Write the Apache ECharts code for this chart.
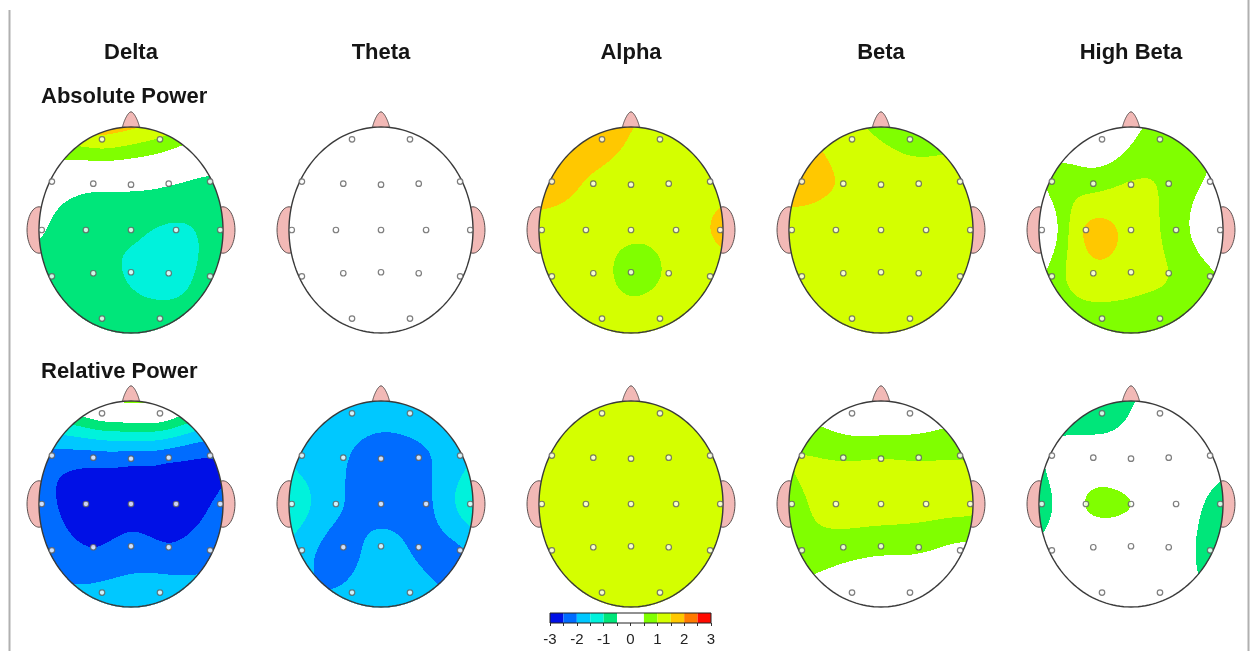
<!DOCTYPE html>
<html>
<head>
<meta charset="utf-8">
<script src="https://cdn.jsdelivr.net/npm/echarts@6/dist/echarts.min.js"></script>
<style>html,body{margin:0;padding:0;background:#fff}#c{width:1255px;height:651px}</style>
</head>
<body>
<div id="c"></div>
<script>
// ---------------- DATA ----------------
const bands = ['Delta', 'Theta', 'Alpha', 'Beta', 'High Beta'];
const rowTitles = ['Absolute Power', 'Relative Power'];
const electrodes = ['Fp1','Fp2','F7','F3','Fz','F4','F8','T3','C3','Cz','C4','T4','T5','P3','Pz','P4','T6','O1','O2'];

// Z-scores at each electrode (order as in `electrodes`)
const absDelta     = [1.35, 0.95, -0.05, -0.3, -0.35, -0.45, -0.6, -0.45, -0.9, -0.9, -1.05, -0.85, -0.8, -0.85, -1.05, -1.2, -0.85, -0.8, -0.85];
const absTheta     = [0.1, 0.1, 0.0, 0.1, 0.1, 0.1, 0.0, 0.0, 0.1, 0.1, 0.1, 0.0, 0.0, 0.1, 0.1, 0.1, 0.0, 0.1, 0.1];
const absAlpha     = [1.75, 1.25, 1.8, 1.4, 1.25, 1.25, 1.3, 1.3, 1.25, 1.1, 1.2, 1.58, 1.25, 1.2, 0.85, 1.05, 1.25, 1.25, 1.25];
const absBeta      = [1.15, 0.9, 1.7, 1.45, 1.25, 1.15, 1.15, 1.3, 1.25, 1.25, 1.25, 1.25, 1.25, 1.25, 1.25, 1.25, 1.25, 1.25, 1.25];
const absHighBeta  = [0.0, 0.8, 0.65, 0.8, 1.05, 0.9, 0.4, -0.2, 1.55, 1.35, 0.75, -0.1, 0.7, 1.35, 1.2, 1.0, 0.6, 0.8, 0.8];
const relDelta     = [-0.1, 0.0, -2.15, -2.25, -2.3, -2.35, -2.45, -2.3, -2.75, -2.65, -2.75, -2.4, -2.2, -2.5, -2.35, -2.45, -2.2, -1.85, -1.7];
const relTheta     = [-1.75, -1.75, -1.7, -1.95, -2.25, -2.1, -1.7, -1.15, -1.9, -2.25, -2.1, -1.15, -1.8, -2.2, -1.8, -2.1, -2.05, -1.9, -1.75];
const relAlpha     = [1.25, 1.25, 1.25, 1.25, 1.25, 1.25, 1.25, 1.25, 1.25, 1.25, 1.25, 1.25, 1.25, 1.25, 1.25, 1.25, 1.25, 1.25, 1.25];
const relBeta      = [0.0, 0.05, 1.0, 0.95, 1.0, 0.95, 0.95, 0.85, 1.2, 1.25, 1.2, 1.15, 0.8, 0.75, 0.65, 0.6, 0.35, 0.0, 0.0];
const relHighBeta  = [-0.9, 0.0, -0.35, 0.0, 0.05, 0.1, 0.0, -0.85, 0.52, 0.5, 0.1, -0.85, -0.15, 0.1, 0.2, 0.0, -0.8, 0.1, 0.1];

const absoluteMaps = [absDelta, absTheta, absAlpha, absBeta, absHighBeta];
const relativeMaps = [relDelta, relTheta, relAlpha, relBeta, relHighBeta];

// Colour scale (z-score class limits) and colorbar tick labels
const scaleBreaks = [-3, -2.5, -2, -1.5, -1, -0.5, 0.5, 1, 1.5, 2, 2.5, 3];
const scaleColors = ['#0010e6', '#006cff', '#00c8ff', '#00f2dc', '#00e67a', '#ffffff', '#80ff00', '#d4ff00', '#ffc800', '#ff7a00', '#ff0a00'];
const colorbarTicks = [-3, -2, -1, 0, 1, 2, 3];

// ---------------- LAYOUT (10-20 montage in unit head space) ----------------
const montageX = [-0.315, 0.315, -0.86, -0.41, 0, 0.41, 0.86, -0.97, -0.49, 0, 0.49, 0.97, -0.86, -0.41, 0, 0.41, 0.86, -0.315, 0.315];
const montageY = [0.88, 0.88, 0.47, 0.45, 0.44, 0.45, 0.47, 0, 0, 0, 0, 0, -0.45, -0.42, -0.41, -0.42, -0.45, -0.86, -0.86];
const colCenters = [131, 381, 631, 881, 1131];
const rowCenters = [230, 504];
const HRX = 92, HRY = 103;
const FONT = '"Liberation Sans", Arial, Helvetica, sans-serif';

// thin-plate spline surface through electrode values
function makeSurface(vals) {
  const n = vals.length, m = n + 3;
  const phi = (r2) => r2 > 1e-12 ? 0.5 * r2 * Math.log(r2) : 0;
  const A = [];
  for (let i = 0; i < m; i++) A.push(new Array(m + 1).fill(0));
  for (let i = 0; i < n; i++) {
    for (let j = 0; j < n; j++) {
      const dx = montageX[i] - montageX[j], dy = montageY[i] - montageY[j];
      A[i][j] = phi(dx * dx + dy * dy);
    }
    A[i][n] = 1; A[i][n + 1] = montageX[i]; A[i][n + 2] = montageY[i];
    A[n][i] = 1; A[n + 1][i] = montageX[i]; A[n + 2][i] = montageY[i];
    A[i][m] = vals[i];
  }
  for (let k = 0; k < m; k++) {
    let p = k;
    for (let i = k + 1; i < m; i++) if (Math.abs(A[i][k]) > Math.abs(A[p][k])) p = i;
    const t = A[k]; A[k] = A[p]; A[p] = t;
    const d = A[k][k];
    if (Math.abs(d) < 1e-14) continue;
    for (let i = 0; i < m; i++) {
      if (i === k) continue;
      const f = A[i][k] / d;
      if (f === 0) continue;
      for (let j = k; j <= m; j++) A[i][j] -= f * A[k][j];
    }
  }
  const w = A.map((row, i) => Math.abs(row[i]) < 1e-14 ? 0 : row[m] / row[i]);
  return (x, y) => {
    let s = w[n] + w[n + 1] * x + w[n + 2] * y;
    for (let i = 0; i < n; i++) {
      const dx = x - montageX[i], dy = y - montageY[i];
      s += w[i] * phi(dx * dx + dy * dy);
    }
    return s;
  };
}

function classOf(v) {
  let k = 0;
  for (let i = 1; i < scaleBreaks.length - 1; i++) if (v >= scaleBreaks[i]) k = i;
  return k;
}

// run-length encoded raster rows of the head surface: [x0, x1, yTop, yBottom, value]
function headCells(vals) {
  const f = makeSurface(vals);
  const out = [];
  const NX = 2 * HRX, NY = 2 * HRY;
  for (let r = 0; r < NY; r++) {
    const yTop = 1 - 2 * r / NY, yBot = 1 - 2 * (r + 1) / NY, yc = (yTop + yBot) / 2;
    const half = Math.sqrt(Math.max(0, 1 - yc * yc));
    let start = -1, cls = null, val = 0;
    for (let c = 0; c <= NX; c++) {
      let k = null, v = 0;
      if (c < NX) {
        const xc = -1 + 2 * (c + 0.5) / NX;
        if (Math.abs(xc) <= half) { v = f(xc, yc); k = classOf(v); }
      }
      if (k !== cls) {
        if (cls !== null) out.push([-1 + 2 * start / NX, -1 + 2 * c / NX, yTop, yBot, val]);
        cls = k; start = c; val = v;
      }
    }
  }
  return out;
}

// ---------------- OPTION ----------------
const grids = [], xAxes = [], yAxes = [], series = [], cellSeriesIdx = [];
const allMaps = [absoluteMaps, relativeMaps];

allMaps.forEach((rowMaps, r) => {
  rowMaps.forEach((vals, c) => {
    const gi = grids.length;
    grids.push({ left: colCenters[c] - HRX, top: rowCenters[r] - HRY, width: 2 * HRX, height: 2 * HRY, show: false });
    xAxes.push({ gridIndex: gi, type: 'value', min: -1, max: 1, show: false });
    yAxes.push({ gridIndex: gi, type: 'value', min: -1, max: 1, show: false });

    // ears + nose (behind head)
    series.push({
      type: 'custom', xAxisIndex: gi, yAxisIndex: gi, clip: false, silent: true, z: 1,
      data: [[0, 0]],
      renderItem: (params, api) => {
        const children = [];
        [-1, 1].forEach(side => {
          const pts = [];
          for (let k = 0; k <= 60; k++) {
            const t = 2 * Math.PI * k / 60;
            pts.push(api.coord([side * (1.0 + 0.13 * Math.cos(t)), 0.225 * Math.sin(t)]));
          }
          children.push({ type: 'polygon', shape: { points: pts }, style: { fill: '#f2b9b6', stroke: '#5a5050', lineWidth: 1 } });
        });
        const np = [];
        const y0 = 0.96, y1 = 1.148, wN = 0.1;
        for (let k = 0; k <= 30; k++) {
          const s = k / 30;
          np.push(api.coord([-wN * Math.pow(1 - s * s, 0.6) * (1 - 0.25 * s), y0 + (y1 - y0) * s]));
        }
        for (let k = 30; k >= 0; k--) {
          const s = k / 30;
          np.push(api.coord([wN * Math.pow(1 - s * s, 0.6) * (1 - 0.25 * s), y0 + (y1 - y0) * s]));
        }
        children.push({ type: 'polygon', shape: { points: np }, style: { fill: '#f2b9b6', stroke: '#5a5050', lineWidth: 1 } });
        return { type: 'group', children };
      }
    });

    // topographic surface
    cellSeriesIdx.push(series.length);
    series.push({
      type: 'custom', xAxisIndex: gi, yAxisIndex: gi, silent: true, z: 2,
      dimensions: ['x0', 'x1', 'y0', 'y1', 'z'],
      encode: { x: [0, 1], y: [2, 3] },
      data: headCells(vals),
      renderItem: (params, api) => {
        const p0 = api.coord([api.value(0), api.value(2)]);
        const p1 = api.coord([api.value(1), api.value(3)]);
        return { type: 'rect', shape: { x: p0[0], y: p0[1], width: p1[0] - p0[0], height: p1[1] - p0[1] + 0.4 },
                 style: { fill: api.visual('color') } };
      }
    });

    // head outline
    series.push({
      type: 'custom', xAxisIndex: gi, yAxisIndex: gi, clip: false, silent: true, z: 3,
      data: [[0, 0]],
      renderItem: (params, api) => {
        const pts = [];
        for (let k = 0; k <= 160; k++) {
          const t = 2 * Math.PI * k / 160;
          pts.push(api.coord([Math.cos(t), Math.sin(t)]));
        }
        return { type: 'polygon', shape: { points: pts }, style: { fill: 'none', stroke: '#3a3a3a', lineWidth: 1.4 } };
      }
    });

    // electrodes
    series.push({
      type: 'scatter', xAxisIndex: gi, yAxisIndex: gi, silent: true, z: 4,
      symbol: 'circle', symbolSize: 5.5,
      itemStyle: { color: '#ffffff', borderColor: '#5e5e5e', borderWidth: 1.2 },
      data: electrodes.map((name, i) => ({ name, value: [montageX[i], montageY[i]] }))
    });
  });
});

// colorbar
const cbi = grids.length;
grids.push({ left: 550, top: 613, width: 161, height: 10, show: false });
xAxes.push({
  gridIndex: cbi, type: 'value', min: -3, max: 3, interval: 0.5,
  axisLine: { show: false },
  axisTick: { show: true, length: 3, lineStyle: { color: '#333', width: 1 } },
  axisLabel: { show: true, margin: 9, fontSize: 15, color: '#222', fontFamily: FONT,
               formatter: v => colorbarTicks.includes(v) ? String(v) : '' },
  splitLine: { show: false }
});
yAxes.push({ gridIndex: cbi, type: 'value', min: 0, max: 1, show: false });
cellSeriesIdx.push(series.length);
series.push({
  type: 'custom', xAxisIndex: cbi, yAxisIndex: cbi, silent: true, z: 2,
  dimensions: ['x0', 'x1', 'y0', 'y1', 'z'],
  encode: { x: [0, 1], y: [2, 3] },
  data: scaleColors.map((col, i) => [scaleBreaks[i], scaleBreaks[i + 1], 1, 0, (scaleBreaks[i] + scaleBreaks[i + 1]) / 2]),
  renderItem: (params, api) => {
    const p0 = api.coord([api.value(0), api.value(2)]);
    const p1 = api.coord([api.value(1), api.value(3)]);
    return { type: 'rect', shape: { x: p0[0], y: p0[1], width: p1[0] - p0[0], height: p1[1] - p0[1] },
             style: { fill: api.visual('color') } };
  }
});
series.push({
  type: 'custom', xAxisIndex: cbi, yAxisIndex: cbi, silent: true, z: 3, clip: false,
  data: [[0, 0]],
  renderItem: (params, api) => {
    const p0 = api.coord([-3, 1]), p1 = api.coord([3, 0]);
    return { type: 'rect', shape: { x: p0[0], y: p0[1], width: p1[0] - p0[0], height: p1[1] - p0[1] },
             style: { fill: 'none', stroke: '#222', lineWidth: 1 } };
  }
});

const pieces = scaleColors.map((col, i) => {
  if (i === 0) return { lt: scaleBreaks[1], color: col };
  if (i === scaleColors.length - 1) return { gte: scaleBreaks[i], color: col };
  return { gte: scaleBreaks[i], lt: scaleBreaks[i + 1], color: col };
});

const graphics = [];
bands.forEach((b, c) => graphics.push({
  type: 'text', x: colCenters[c], y: 53,
  style: { text: b, fill: '#151515', font: 'bold 22px ' + FONT, align: 'center', verticalAlign: 'middle', textAlign: 'center', textVerticalAlign: 'middle' }
}));
[97, 372].forEach((y, r) => graphics.push({
  type: 'text', x: 41, y: y,
  style: { text: rowTitles[r], fill: '#151515', font: 'bold 22px ' + FONT, align: 'left', verticalAlign: 'middle', textAlign: 'left', textVerticalAlign: 'middle' }
}));
graphics.push({ type: 'line', shape: { x1: 9.5, y1: 10, x2: 9.5, y2: 651 }, style: { stroke: '#b0b0b0', lineWidth: 2 } });
graphics.push({ type: 'line', shape: { x1: 1248.5, y1: 0, x2: 1248.5, y2: 651 }, style: { stroke: '#b0b0b0', lineWidth: 2 } });

const option = {
  animation: false,
  backgroundColor: '#ffffff',
  grid: grids,
  xAxis: xAxes,
  yAxis: yAxes,
  visualMap: [{ type: 'piecewise', show: false, dimension: 4, seriesIndex: cellSeriesIdx, pieces }],
  graphic: graphics,
  series
};

const chart = echarts.init(document.getElementById('c'), null, { renderer: 'canvas' });
chart.setOption(option);
</script>
</body>
</html>
